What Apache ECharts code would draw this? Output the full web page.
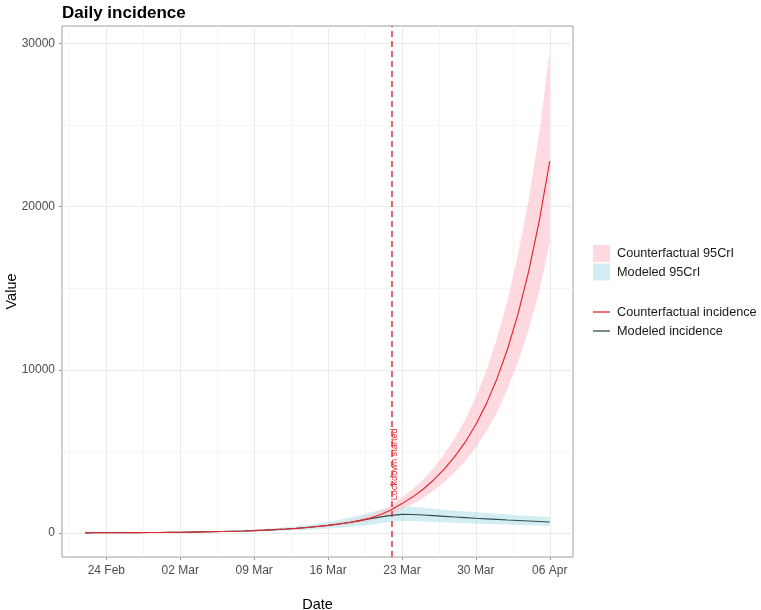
<!DOCTYPE html>
<html><head><meta charset="utf-8">
<script src="https://cdn.jsdelivr.net/npm/echarts@6/dist/echarts.min.js"></script>
<style>html,body{margin:0;padding:0;background:#fff}#c{width:761px;height:610px}</style>
</head><body><div id="c"></div>
<script>
// ---- data ----
const startDate = '2020-02-22';          // first day of the series (index 0)
const lockdownDate = '2020-03-22';
const lockdownLabel = 'Lockdown started';
const lockdownLabelValue = 2000;
const tickDates = ['2020-02-24','2020-03-02','2020-03-09','2020-03-16','2020-03-23','2020-03-30','2020-04-06'];
const tickLabels = ['24 Feb','02 Mar','09 Mar','16 Mar','23 Mar','30 Mar','06 Apr'];
const yTicks = [0, 10000, 20000, 30000];
const yMinorTicks = [5000, 15000, 25000];

const cfMedian = [10,12,14,16,20,23,27,32,39,46,54,64,76,89,105,124,147,174,205,242,285,337,398,470,550,640,760,920,1130,1420,1800,2200,2680,3250,3920,4680,5580,6650,7930,9460,11280,13450,16040,19120,22800];
const cfLower  = [9,10,12,14,17,20,23,27,33,39,46,54,64,75,88,104,123,145,171,201,236,279,328,387,452,525,622,750,920,1150,1455,1770,2150,2600,3120,3720,4420,5250,6240,7420,8820,10480,12460,14820,17800];
const cfUpper  = [12,14,16,19,23,27,32,38,46,54,64,75,89,105,124,146,173,205,242,286,337,399,472,558,655,765,910,1105,1360,1710,2180,2680,3280,3990,4830,5800,6950,8320,9960,11930,14280,17080,20450,24480,29600];
const modMedian = [10,12,14,16,20,23,27,32,39,46,54,64,76,89,105,124,147,174,205,242,285,337,398,470,550,640,755,880,990,1080,1140,1135,1100,1060,1020,980,940,900,865,830,795,765,735,705,670];
const modLower  = [7,8,9,11,13,15,18,21,25,29,34,40,47,55,64,75,88,103,120,140,163,190,228,270,315,370,435,510,600,690,740,730,700,675,650,625,600,578,555,535,515,495,475,455,430];
const modUpper  = [14,16,19,22,27,31,37,44,53,63,75,89,106,125,148,176,208,246,290,345,405,480,570,680,800,930,1080,1250,1420,1560,1640,1610,1550,1490,1430,1375,1320,1270,1220,1175,1130,1090,1050,1015,980];

// ---- helpers ----
function dayOf(s){ return Math.round((Date.parse(s+'T00:00:00Z') - Date.parse(startDate+'T00:00:00Z'))/86400000); }
const days = cfMedian.map((_, i) => i);
const tickDays = tickDates.map(dayOf);
const xMinorDays = tickDays.map(d => d - 3.5);
const lockDay = dayOf(lockdownDate);
const pair = (arr) => arr.map((v, i) => [days[i], v]);
const triple = (lo, hi) => lo.map((v, i) => [days[i], v, hi[i]]);

const xSpan = days[days.length-1] - days[0];
const xMin = days[0] - 0.05 * xSpan, xMax = days[days.length-1] + 0.05 * xSpan;
const allY = [].concat(cfLower, cfUpper, modLower, modUpper);
const yLo = Math.min(...allY), yHi = Math.max(...allY);
const yMin = yLo - 0.05 * (yHi - yLo), yMax = yHi + 0.05 * (yHi - yLo);

const PINK = 'rgba(255,192,203,0.6)';
const CYAN = 'rgba(105,198,212,0.3)';
const RED = '#E0282E';
const DARK = '#2F4F4F';
const FONT = 'Liberation Sans, Arial, sans-serif';

function bandSeries(name, lo, hi, color) {
  const rows = triple(lo, hi);
  return {
    name: name, type: 'custom', silent: true, itemStyle: {color: color},
    data: rows, encode: {x: 0, y: [1, 2]},
    renderItem: function (params, api) {
      if (params.dataIndex !== 0) return null;
      const pts = [];
      for (let i = 0; i < rows.length; i++) pts.push(api.coord([rows[i][0], rows[i][2]]));
      for (let i = rows.length - 1; i >= 0; i--) pts.push(api.coord([rows[i][0], rows[i][1]]));
      return {type: 'polygon', shape: {points: pts}, style: {fill: color, stroke: null}};
    }
  };
}

const chart = echarts.init(document.getElementById('c'), null, {renderer: 'canvas'});
chart.setOption({
  animation: false,
  textStyle: {fontFamily: FONT},
  title: {text: 'Daily incidence', left: 62, top: 4.5, padding: 0,
          textStyle: {fontFamily: FONT, fontSize: 17, fontWeight: 'bold', color: '#000'}},
  grid: {left: 62, right: 188, top: 26, bottom: 53, show: true, borderColor: '#9e9e9e', borderWidth: 1,
         containLabel: false, outerBoundsMode: 'none'},
  legend: [
    {data: ['Counterfactual 95CrI', 'Modeled 95CrI'], orient: 'vertical', left: 593, top: 245, padding: 0,
     itemWidth: 17, itemHeight: 17, itemGap: 1.5, icon: 'rect',
     textStyle: {fontFamily: FONT, fontSize: 12.7, color: '#1a1a1a', padding: [0,0,0,2]}, selectedMode: false},
    {data: [{name: 'Counterfactual incidence', itemStyle: {color: RED}},
            {name: 'Modeled incidence', itemStyle: {color: DARK}}],
     orient: 'vertical', left: 593, top: 303.5, padding: 0, itemWidth: 17, itemHeight: 1.3, itemGap: 2, icon: 'rect',
     itemStyle: {borderWidth: 0},
     textStyle: {fontFamily: FONT, fontSize: 12.7, lineHeight: 17, color: '#1a1a1a', padding: [0,0,0,2]}, selectedMode: false}
  ],
  xAxis: [
    {type: 'value', min: xMin, max: xMax, name: 'Date', nameLocation: 'middle', nameGap: 40, nameMoveOverlap: false,
     nameTextStyle: {fontFamily: FONT, fontSize: 14.5, color: '#000'},
     axisLine: {show: false, onZero: false},
     axisTick: {show: true, length: 3, lineStyle: {color: '#999'}, customValues: tickDays},
     axisLabel: {customValues: tickDays, fontFamily: FONT, fontSize: 12, color: '#4d4d4d', margin: 8,
       formatter: v => tickLabels[tickDays.indexOf(Math.round(v))] || ''},
     splitLine: {show: true, lineStyle: {color: '#ebebeb', width: 1}}},
    {type: 'value', min: xMin, max: xMax, position: 'top', show: true,
     axisLine: {show: false, onZero: false}, axisLabel: {show: false},
     axisTick: {show: false, customValues: xMinorDays},
     splitLine: {show: true, lineStyle: {color: '#f5f5f5', width: 1}}}
  ],
  yAxis: [
    {type: 'value', min: yMin, max: yMax, name: 'Value', nameLocation: 'middle', nameGap: 43, nameMoveOverlap: false,
     nameTextStyle: {fontFamily: FONT, fontSize: 14.5, color: '#000'},
     axisLine: {show: false, onZero: false},
     axisTick: {show: true, length: 3, lineStyle: {color: '#999'}, customValues: yTicks},
     axisLabel: {customValues: yTicks, fontFamily: FONT, fontSize: 12, color: '#4d4d4d', margin: 7, formatter: v => String(Math.round(v))},
     splitLine: {show: true, lineStyle: {color: '#ebebeb', width: 1}}},
    {type: 'value', min: yMin, max: yMax, position: 'right', show: true,
     axisLine: {show: false, onZero: false}, axisLabel: {show: false},
     axisTick: {show: false, customValues: yMinorTicks},
     splitLine: {show: true, lineStyle: {color: '#f5f5f5', width: 1}}}
  ],
  series: [
    bandSeries('Modeled 95CrI', modLower, modUpper, CYAN),
    bandSeries('Counterfactual 95CrI', cfLower, cfUpper, PINK),
    {name: 'Modeled incidence', type: 'line', data: pair(modMedian), symbol: 'none', showSymbol: false,
     itemStyle: {color: DARK}, lineStyle: {color: DARK, width: 1.15}},
    {name: 'Counterfactual incidence', type: 'line', data: pair(cfMedian), symbol: 'none', showSymbol: false,
     itemStyle: {color: RED}, lineStyle: {color: RED, width: 1.15},
     markLine: {silent: true, symbol: ['none', 'none'], label: {show: false},
       lineStyle: {color: '#E8303A', width: 1.5, type: [6, 4]},
       data: [{xAxis: lockDay}]}}
  ]
});

const p = chart.convertToPixel({xAxisIndex: 0, yAxisIndex: 0}, [lockDay, lockdownLabelValue]);
chart.setOption({
  graphic: [{type: 'text', x: p[0] - 1, y: p[1], rotation: Math.PI / 2, silent: true,
    style: {text: lockdownLabel, fill: '#E8303A', font: '9.2px ' + FONT, align: 'left', verticalAlign: 'top'}}]
});
</script></body></html>
